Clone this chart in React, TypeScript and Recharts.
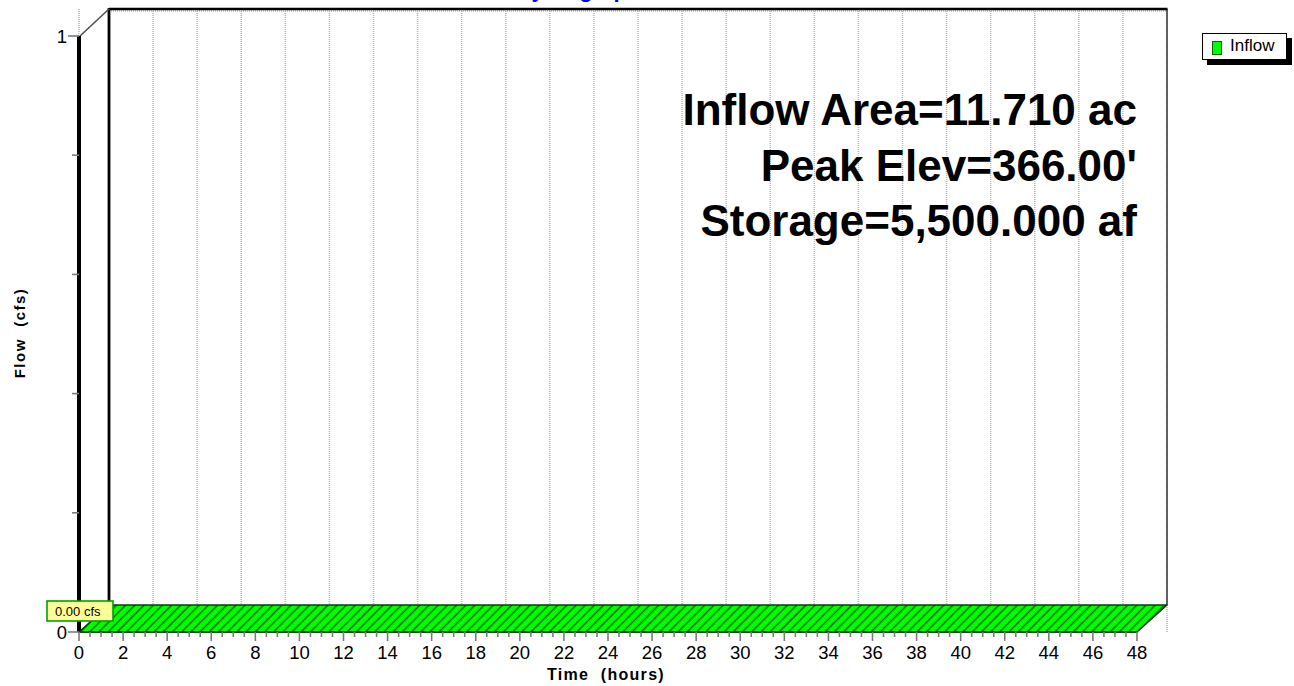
import React from 'react';
import {
  ComposedChart,
  Area,
  XAxis,
  YAxis,
  CartesianGrid,
  ReferenceArea,
  Customized,
  Legend,
} from 'recharts';

// ---------------- data ----------------
const inflowHours = [0, 4, 8, 12, 16, 20, 24, 28, 32, 36, 40, 44, 48];
const inflowCfs = [0, 0, 0, 0, 0, 0, 0, 0, 0, 0, 0, 0, 0];
const seriesName = 'Inflow';

const timeTicks = [0, 2, 4, 6, 8, 10, 12, 14, 16, 18, 20, 22, 24, 26, 28, 30, 32, 34, 36, 38, 40, 42, 44, 46, 48];
const gridHours = [2, 4, 6, 8, 10, 12, 14, 16, 18, 20, 22, 24, 26, 28, 30, 32, 34, 36, 38, 40, 42, 44, 46];
const flowTicks = [0, 0.2, 0.4, 0.6, 0.8, 1];
const flowLabeledTicks = [0, 1];
const flowTickLabels = ['0', '1'];

const chartTitle = 'Hydrograph';
const xAxisTitle = 'Time  (hours)';
const yAxisTitle = 'Flow  (cfs)';
const peakLabel = '0.00 cfs';
const annotationLines = ['Inflow Area=11.710 ac', "Peak Elev=366.00'", 'Storage=5,500.000 af'];

// minor tick marks every half hour (axis configuration, not data)
const timeAllTicks = timeTicks.flatMap((t) =>
  t < timeTicks[timeTicks.length - 1] ? [t, t + 0.5, t + 1, t + 1.5] : [t]
);

const rows = inflowHours.map((h, i) => ({ hours: h, inflow: inflowCfs[i] }));
const peakCfs = Math.max(...inflowCfs);

// ---------------- layout / style ----------------
const W = 1294;
const H = 686;
const XAXIS_H = 54;
const YAXIS_W = 79;
const PLOT_BOTTOM = H - XAXIS_H;
const PLOT_LEFT = YAXIS_W;
const DX = 30;
const DY = 27;
const FONT = "Arial, 'Liberation Sans', Helvetica, sans-serif";
const GREEN = '#00ff00';
const DARK_GREEN = '#0a3c0a';

const TimeTick = (props: any) => {
  const { x, payload } = props;
  const y = PLOT_BOTTOM;
  const v = payload.value;
  const major = timeTicks.includes(v);
  return (
    <g>
      <line x1={x} x2={x} y1={y} y2={y + (major ? 9 : 5)} stroke="#7a7a7a" strokeWidth={1.6} />
      {major && (
        <text x={x} y={y + 27} textAnchor="middle" fontSize={18.5} fill="#000" fontFamily={FONT}>
          {v}
        </text>
      )}
    </g>
  );
};

const FlowTick = (props: any) => {
  const { y, payload } = props;
  const x = PLOT_LEFT;
  const v = payload.value;
  const idx = flowLabeledTicks.indexOf(v);
  const major = idx >= 0;
  return (
    <g>
      <line x1={x - (major ? 11 : 7)} x2={x} y1={y} y2={y} stroke="#7a7a7a" strokeWidth={1.6} />
      {major && (
        <text x={x - 12} y={y + 6.5} textAnchor="end" fontSize={18.5} fill="#000" fontFamily={FONT}>
          {flowTickLabels[idx]}
        </text>
      )}
    </g>
  );
};

// front frame rect -> draws the back wall (shifted by the depth) and the front value axis
const Frame = (p: any) => {
  const { x, y, width, height } = p;
  const bx = x + DX;
  const by = y - DY;
  return (
    <g>
      <line x1={bx} x2={bx + width} y1={by + 2} y2={by + 2} stroke="#b8b8b8" strokeWidth={1.5} strokeDasharray="1 1" />
      <line x1={bx + width} x2={bx + width} y1={by} y2={by + height} stroke="#404040" strokeWidth={1.6} />
      <line x1={bx} x2={bx + width + 0.5} y1={by} y2={by} stroke="#000" strokeWidth={2.6} />
      <line x1={bx} x2={bx} y1={by - 1} y2={by + height} stroke="#000" strokeWidth={2.8} />
      <line x1={x + 1} y1={y} x2={bx} y2={by} stroke="#505050" strokeWidth={1.6} />
      <line x1={x} x2={x} y1={y} y2={y + height} stroke="#000" strokeWidth={4} />
    </g>
  );
};

const InflowTop = (p: any) => {
  const { x, y, width } = p;
  return (
    <g>
      <defs>
        <pattern id="inflowHatch" patternUnits="userSpaceOnUse" width={6.5} height={6.5} patternTransform="rotate(45)">
          <rect width={6.5} height={6.5} fill={GREEN} />
          <line x1={3.25} y1={0} x2={3.25} y2={6.5} stroke="#006000" strokeWidth={1.4} />
        </pattern>
      </defs>
      <polygon
        points={`${x},${y} ${x + width},${y} ${x + width + DX},${y - DY} ${x + DX},${y - DY}`}
        fill="url(#inflowHatch)"
        stroke={DARK_GREEN}
        strokeWidth={1.5}
        strokeLinejoin="round"
      />
      <rect x={x - 32} y={y - 31} width={66} height={20} fill="#ffff99" stroke="#00a000" strokeWidth={1.6} />
      <text x={x - 24} y={y - 16} fontSize={13} fill="#000" fontFamily={FONT}>
        {peakLabel}
      </text>
    </g>
  );
};

const Texts = () => (
  <g fontFamily={FONT}>
    <text x={578} y={-3} textAnchor="middle" fontSize={22} fontWeight="bold" fill="#0000ff">
      {chartTitle}
    </text>
    {annotationLines.map((t, i) => (
      <text key={t} x={1137} y={125 + i * 55.5} textAnchor="end" fontSize={44} fontWeight="bold" fill="#000">
        {t}
      </text>
    ))}
    <text x={606} y={680} textAnchor="middle" fontSize={16} fontWeight="bold" fill="#000" letterSpacing={1.3} style={{ whiteSpace: 'pre' }}>
      {xAxisTitle}
    </text>
    <text
      x={25}
      y={333}
      textAnchor="middle"
      fontSize={15}
      fontWeight="bold"
      fill="#000"
      letterSpacing={1.5}
      transform="rotate(-90 25 333)"
      style={{ whiteSpace: 'pre' }}
    >
      {yAxisTitle}
    </text>
  </g>
);

const LegendBox = (props: any) => {
  const item = props.payload && props.payload[0];
  const name = item ? item.value : seriesName;
  return (
    <div style={{ position: 'relative', width: 92, height: 34 }}>
      <div style={{ position: 'absolute', left: 5, top: 5, width: 85, height: 27, background: '#000' }} />
      <div
        style={{
          position: 'absolute',
          left: 0,
          top: 0,
          width: 83,
          height: 25,
          background: '#fff',
          border: '1px solid #000',
          fontFamily: FONT,
          fontSize: 17,
          color: '#000',
        }}
      >
        <div
          style={{
            position: 'absolute',
            left: 9,
            top: 7,
            width: 8,
            height: 12,
            background: GREEN,
            border: '1.5px solid #006400',
          }}
        />
        <div style={{ position: 'absolute', left: 27, top: 2, lineHeight: '20px' }}>{name}</div>
      </div>
    </div>
  );
};

export default function App() {
  return (
    <div style={{ position: 'absolute', left: 0, top: 0, width: W, height: H, background: '#fff', overflow: 'hidden' }}>
      <ComposedChart width={W} height={H} data={rows} margin={{ top: 9, right: 127, bottom: 0, left: 0 }}>
        <XAxis
          xAxisId="front"
          dataKey="hours"
          type="number"
          domain={[0, 48]}
          ticks={timeAllTicks}
          interval={0}
          tickSize={0}
          tickMargin={0}
          tick={<TimeTick />}
          axisLine={false}
          height={XAXIS_H}
          padding={{ left: 0, right: DX }}
        />
        <XAxis
          xAxisId="back"
          dataKey="hours"
          type="number"
          domain={[0, 48]}
          ticks={gridHours}
          interval={0}
          hide
          padding={{ left: DX, right: 0 }}
        />
        <YAxis
          yAxisId="front"
          type="number"
          domain={[0, 1]}
          ticks={flowTicks}
          interval={0}
          tickSize={0}
          tickMargin={0}
          tick={<FlowTick />}
          axisLine={false}
          width={YAXIS_W}
          padding={{ top: DY, bottom: 0 }}
        />
        <YAxis yAxisId="back" type="number" domain={[0, 1]} hide padding={{ top: 0, bottom: DY }} />
        <CartesianGrid
          xAxisId="back"
          yAxisId="back"
          horizontal={false}
          stroke="#b8b8b8"
          strokeWidth={1.5}
          strokeDasharray="1 1"
        />
        <ReferenceArea xAxisId="front" yAxisId="front" x1={0} x2={48} y1={0} y2={1} shape={Frame} />
        <Area
          xAxisId="front"
          yAxisId="front"
          dataKey="inflow"
          name={seriesName}
          type="linear"
          stroke={DARK_GREEN}
          strokeWidth={1.5}
          fill={GREEN}
          fillOpacity={1}
          dot={false}
          activeDot={false}
          isAnimationActive={false}
        />
        <ReferenceArea
          xAxisId="front"
          yAxisId="front"
          x1={inflowHours[0]}
          x2={inflowHours[inflowHours.length - 1]}
          y1={0}
          y2={peakCfs}
          shape={InflowTop}
        />
        <Legend
          layout="horizontal"
          verticalAlign="middle"
          align="center"
          content={<LegendBox />}
          wrapperStyle={{ position: 'absolute', left: 1202, top: 33, width: 92, height: 34 }}
        />
        <Customized component={<Texts />} />
      </ComposedChart>
    </div>
  );
}
